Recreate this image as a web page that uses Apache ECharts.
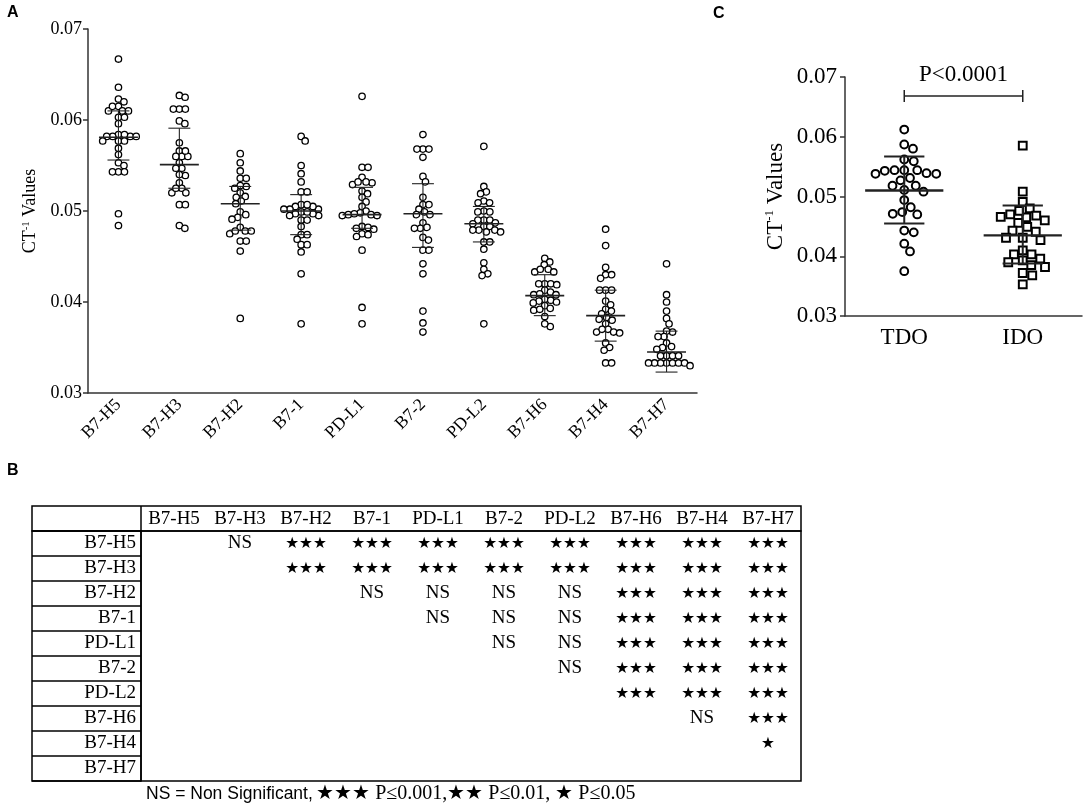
<!DOCTYPE html>
<html lang="en">
<head>
<meta charset="utf-8" />
<title>B7 family CT-1 values</title>
<script src="https://cdn.jsdelivr.net/npm/echarts@6/dist/echarts.min.js"></script>
<style>
  html, body { margin: 0; padding: 0; background: #fff; }
  #main { width: 1084px; height: 806px; }
</style>
</head>
<body>
<div id="main"></div>
<script>
  // ---- panel A : CT-1 values per B7 family member ----
  var groupsA = ["B7-H5", "B7-H3", "B7-H2", "B7-1", "PD-L1", "B7-2", "PD-L2", "B7-H6", "B7-H4", "B7-H7"];
  var h5 = [0.0667, 0.0636, 0.0623, 0.0620, 0.0615, 0.0610, 0.0610, 0.0610, 0.0615, 0.0603, 0.0603, 0.0596, 0.0584, 0.0582, 0.0582, 0.0582, 0.0582, 0.0584, 0.0577, 0.0577, 0.0577, 0.0569, 0.0562, 0.0553, 0.0550, 0.0543, 0.0543, 0.0543, 0.0497, 0.0484];
  var h3 = [0.0627, 0.0625, 0.0612, 0.0612, 0.0612, 0.0599, 0.0596, 0.0575, 0.0566, 0.0560, 0.0560, 0.0560, 0.0566, 0.0553, 0.0547, 0.0547, 0.0539, 0.0540, 0.0531, 0.0525, 0.0520, 0.0520, 0.0525, 0.0507, 0.0507, 0.0484, 0.0481];
  var h2 = [0.0563, 0.0553, 0.0544, 0.0536, 0.0536, 0.0527, 0.0528, 0.0525, 0.0520, 0.0516, 0.0515, 0.0511, 0.0508, 0.0499, 0.0496, 0.0493, 0.0491, 0.0482, 0.0478, 0.0475, 0.0478, 0.0478, 0.0467, 0.0467, 0.0456, 0.0382];
  var b71 = [0.0582, 0.0577, 0.0550, 0.0541, 0.0532, 0.0521, 0.0521, 0.0507, 0.0505, 0.0502, 0.0502, 0.0502, 0.0505, 0.0507, 0.0499, 0.0497, 0.0495, 0.0495, 0.0497, 0.0499, 0.0490, 0.0490, 0.0483, 0.0474, 0.0474, 0.0469, 0.0463, 0.0463, 0.0455, 0.0431, 0.0376];
  var pdl1 = [0.0626, 0.0548, 0.0548, 0.0537, 0.0531, 0.0529, 0.0532, 0.0532, 0.0522, 0.0519, 0.0515, 0.0510, 0.0505, 0.0500, 0.0498, 0.0496, 0.0496, 0.0495, 0.0495, 0.0497, 0.0483, 0.0482, 0.0481, 0.0475, 0.0472, 0.0474, 0.0480, 0.0457, 0.0394, 0.0376];
  var b72 = [0.0584, 0.0568, 0.0568, 0.0568, 0.0559, 0.0538, 0.0532, 0.0515, 0.0507, 0.0507, 0.0502, 0.0499, 0.0496, 0.0496, 0.0487, 0.0482, 0.0481, 0.0481, 0.0471, 0.0468, 0.0457, 0.0457, 0.0442, 0.0431, 0.0390, 0.0377, 0.0367];
  var pdl2 = [0.0571, 0.0527, 0.0521, 0.0519, 0.0511, 0.0509, 0.0509, 0.0500, 0.0499, 0.0499, 0.0490, 0.0490, 0.0490, 0.0487, 0.0486, 0.0483, 0.0483, 0.0479, 0.0479, 0.0479, 0.0477, 0.0477, 0.0466, 0.0466, 0.0458, 0.0443, 0.0436, 0.0431, 0.0429, 0.0376];
  var h6 = [0.0448, 0.0444, 0.0441, 0.0436, 0.0433, 0.0433, 0.0436, 0.0420, 0.0420, 0.0419, 0.0420, 0.0413, 0.0411, 0.0408, 0.0409, 0.0408, 0.0403, 0.0401, 0.0402, 0.0400, 0.0399, 0.0396, 0.0393, 0.0391, 0.0392, 0.0384, 0.0373, 0.0376];
  var h4 = [0.0480, 0.0462, 0.0438, 0.0430, 0.0426, 0.0430, 0.0413, 0.0413, 0.0413, 0.0401, 0.0397, 0.0392, 0.0387, 0.0390, 0.0381, 0.0383, 0.0376, 0.0380, 0.0370, 0.0367, 0.0366, 0.0367, 0.0370, 0.0355, 0.0350, 0.0347, 0.0333, 0.0333];
  var h7 = [0.0442, 0.0408, 0.0400, 0.0390, 0.0382, 0.0376, 0.0367, 0.0368, 0.0362, 0.0362, 0.0355, 0.0351, 0.0350, 0.0348, 0.0341, 0.0341, 0.0341, 0.0341, 0.0333, 0.0333, 0.0333, 0.0333, 0.0333, 0.0333, 0.0333, 0.0330];
  var valuesA = [h5, h3, h2, b71, pdl1, b72, pdl2, h6, h4, h7];
  // centre line and error bar ends as drawn in the figure
  var centreA = [0.0581, 0.0551, 0.0508, 0.0500, 0.0496, 0.0497, 0.0486, 0.0407, 0.0385, 0.0345];
  var lowA = [0.0556, 0.0525, 0.0479, 0.0474, 0.0481, 0.0460, 0.0466, 0.0385, 0.0357, 0.0323];
  var highA = [0.0610, 0.0591, 0.0527, 0.0518, 0.0526, 0.0530, 0.0505, 0.0430, 0.0413, 0.0368];

  // ---- panel C : TDO vs IDO ----
  var groupsC = ["TDO", "IDO"];
  var tdo = [0.0612, 0.0580, 0.0587, 0.0559, 0.0562, 0.0544, 0.0543, 0.0538, 0.0538, 0.0539, 0.0544, 0.0544, 0.0527, 0.0531, 0.0518, 0.0508, 0.0511, 0.0518, 0.0482, 0.0494, 0.0471, 0.0470, 0.0474, 0.0440, 0.0443, 0.0421, 0.0408, 0.0375];
  var ido = [0.0585, 0.0508, 0.0491, 0.0480, 0.0470, 0.0466, 0.0465, 0.0468, 0.0476, 0.0456, 0.0460, 0.0449, 0.0441, 0.0443, 0.0431, 0.0427, 0.0431, 0.0410, 0.0403, 0.0403, 0.0393, 0.0390, 0.0396, 0.0385, 0.0382, 0.0372, 0.0368, 0.0353];
  var valuesC = [tdo, ido];
  var centreC = [0.0510, 0.0435];
  var lowC = [0.0455, 0.0388];
  var highC = [0.0567, 0.0485];
  var pText = "P<0.0001";
  var pLevel = 0.0668;

  // y axis range shared by A and C
  var yMin = 0.03, yMax = 0.07, yStep = 0.01;

  // ---- panel B : pairwise significance table ----
  var S3 = "★★★", S1 = "★";
  var tableMarks = [
    ["", "NS", S3, S3, S3, S3, S3, S3, S3, S3],
    ["", "", S3, S3, S3, S3, S3, S3, S3, S3],
    ["", "", "", "NS", "NS", "NS", "NS", S3, S3, S3],
    ["", "", "", "", "NS", "NS", "NS", S3, S3, S3],
    ["", "", "", "", "", "NS", "NS", S3, S3, S3],
    ["", "", "", "", "", "", "NS", S3, S3, S3],
    ["", "", "", "", "", "", "", S3, S3, S3],
    ["", "", "", "", "", "", "", "", "NS", S3],
    ["", "", "", "", "", "", "", "", "", S1],
    ["", "", "", "", "", "", "", "", "", ""]
  ];
  var footNote = "NS = Non Significant,";
  var footKey = "★★★ P≤0.001,★★ P≤0.01, ★ P≤0.05";

  var SERIF = "Liberation Serif";
  var INK = "#222";

  // simple beeswarm: push each point sideways until it no longer overlaps
  function swarm(ys, d) {
    var order = ys.map(function (y, i) { return i; })
      .sort(function (a, b) { return ys[a] - ys[b]; });
    var placed = [];
    var dx = new Array(ys.length);
    order.forEach(function (i) {
      var y = ys[i];
      for (var k = 0; k < 600; k++) {
        var off = (k % 2 === 1 ? 1 : -1) * Math.ceil(k / 2) * 0.25;
        var hit = false;
        for (var p = 0; p < placed.length; p++) {
          var ex = off - placed[p][0], ey = y - placed[p][1];
          if (ex * ex + ey * ey < d * d) { hit = true; break; }
        }
        if (!hit) { dx[i] = off; placed.push([off, y]); break; }
      }
    });
    return dx;
  }

  var swarmCache = {};
  function pointRenderer(values, d, r, lw, shapes) {
    return function (params, api) {
      var g = api.value(0), j = api.value(2);
      var key = params.seriesIndex + "_" + g;
      if (!swarmCache[key]) {
        var ys = values[g].map(function (v) { return api.coord([g, v])[1]; });
        swarmCache[key] = swarm(ys, d);
      }
      var c = api.coord([g, api.value(1)]);
      var x = c[0] + swarmCache[key][j];
      var style = { fill: "#fff", stroke: "#000", lineWidth: lw };
      if (shapes[g] === "rect") {
        return { type: "rect", shape: { x: x - r, y: c[1] - r, width: 2 * r, height: 2 * r }, style: style };
      }
      return { type: "circle", shape: { cx: x, cy: c[1], r: r }, style: style };
    };
  }

  function barRenderer(meanFrac, capFrac, lwMean, lwBar) {
    return function (params, api) {
      var g = api.value(0);
      var band = api.size([1, 0])[0];
      var m = api.coord([g, api.value(1)]);
      var lo = api.coord([g, api.value(2)]);
      var hi = api.coord([g, api.value(3)]);
      var hm = band * meanFrac / 2, hc = band * capFrac / 2;
      var sb = { stroke: INK, lineWidth: lwBar };
      return {
        type: "group",
        children: [
          { type: "line", shape: { x1: lo[0], y1: lo[1], x2: hi[0], y2: hi[1] }, style: sb },
          { type: "line", shape: { x1: lo[0] - hc, y1: lo[1], x2: lo[0] + hc, y2: lo[1] }, style: sb },
          { type: "line", shape: { x1: hi[0] - hc, y1: hi[1], x2: hi[0] + hc, y2: hi[1] }, style: sb },
          { type: "line", shape: { x1: m[0] - hm, y1: m[1], x2: m[0] + hm, y2: m[1] }, style: { stroke: INK, lineWidth: lwMean } }
        ]
      };
    };
  }

  function pointData(values) {
    var out = [];
    values.forEach(function (arr, g) {
      arr.forEach(function (v, j) { out.push([g, v, j]); });
    });
    return out;
  }
  function barData(c, lo, hi) {
    return c.map(function (v, g) { return [g, v, lo[g], hi[g]]; });
  }

  var tableData = [];
  tableMarks.forEach(function (row, r) {
    row.forEach(function (t, c) { if (t) tableData.push([c, r]); });
  });

  function valueAxis(gridIndex, fontSize, margin, gap, nameSize, supSize) {
    return {
      type: "value", gridIndex: gridIndex, min: yMin, max: yMax, interval: yStep,
      name: "{a|CT}{s|-1}{a| Values}", nameLocation: "middle", nameGap: gap, nameRotate: 90,
      nameTextStyle: {
        rich: {
          a: { fontFamily: SERIF, fontSize: nameSize, color: "#000", lineHeight: nameSize + 2 },
          s: { fontFamily: SERIF, fontSize: supSize, color: "#000", verticalAlign: "top", lineHeight: nameSize + 2 }
        }
      },
      axisLine: { show: true, lineStyle: { color: "#333", width: 1.5 } },
      axisTick: { show: true, length: 5, lineStyle: { color: "#333", width: 1.5 } },
      axisLabel: {
        margin: margin, fontFamily: SERIF, fontSize: fontSize, color: "#000",
        formatter: function (v) { return v.toFixed(2); }
      },
      splitLine: { show: false }
    };
  }

  var chart = echarts.init(document.getElementById("main"), null, { renderer: "canvas" });

  var option = {
    animation: false,
    backgroundColor: "#fff",
    textStyle: { fontFamily: SERIF },
    grid: [
      { left: 88, top: 29, width: 609, height: 364 },
      { left: 845, top: 77, width: 237, height: 239 },
      { left: 141, top: 531, width: 660, height: 250, show: true, borderColor: "#000", borderWidth: 1.5, backgroundColor: "transparent" },
      { left: 32, top: 531, width: 109, height: 250, show: true, borderColor: "#000", borderWidth: 1.5, backgroundColor: "transparent" }
    ],
    xAxis: [
      {
        type: "category", gridIndex: 0, data: groupsA,
        axisLine: { lineStyle: { color: "#333", width: 1.5 } },
        axisTick: { alignWithLabel: true, length: 5, lineStyle: { color: "#333", width: 1.5 } },
        axisLabel: { rotate: 45, margin: 9, fontFamily: SERIF, fontSize: 17.5, color: "#000", interval: 0 }
      },
      {
        type: "category", gridIndex: 1, data: groupsC,
        axisLine: { lineStyle: { color: "#333", width: 1.5 } },
        axisTick: { alignWithLabel: true, length: 6, lineStyle: { color: "#333", width: 1.5 } },
        axisLabel: { margin: 10, fontFamily: SERIF, fontSize: 23, color: "#000" }
      },
      {
        type: "category", gridIndex: 2, data: groupsA, position: "top",
        axisLine: { show: false }, axisTick: { show: false },
        axisLabel: { margin: 2, fontFamily: SERIF, fontSize: 19, color: "#000", interval: 0 }
      },
      { type: "value", gridIndex: 3, show: false, min: 0, max: 1 }
    ],
    yAxis: [
      valueAxis(0, 18, 6, 38, 18, 11),
      valueAxis(1, 23, 8, 57, 23, 13),
      { type: "category", gridIndex: 2, data: groupsA, inverse: true, show: false },
      {
        type: "category", gridIndex: 3, data: groupsA, inverse: true, position: "right",
        axisLine: { show: false }, axisTick: { show: false },
        splitLine: { show: true, lineStyle: { color: "#000", width: 1.5 } },
        axisLabel: { inside: true, margin: 5, fontFamily: SERIF, fontSize: 19, color: "#000", interval: 0 }
      }
    ],
    series: [
      {
        type: "custom", xAxisIndex: 0, yAxisIndex: 0, z: 2,
        data: pointData(valuesA),
        renderItem: pointRenderer(valuesA, 6.0, 3.2, 1.3, [])
      },
      {
        type: "custom", xAxisIndex: 0, yAxisIndex: 0, z: 3,
        data: barData(centreA, lowA, highA),
        renderItem: barRenderer(0.64, 0.36, 1.6, 1.1)
      },
      {
        type: "custom", xAxisIndex: 1, yAxisIndex: 1, z: 2,
        data: pointData(valuesC),
        renderItem: pointRenderer(valuesC, 9.6, 3.9, 2, ["circle", "rect"])
      },
      {
        type: "custom", xAxisIndex: 1, yAxisIndex: 1, z: 3,
        data: barData(centreC, lowC, highC),
        renderItem: barRenderer(0.66, 0.34, 2.4, 2)
      },
      {
        // significance bracket over panel C
        type: "custom", xAxisIndex: 1, yAxisIndex: 1, z: 3,
        data: [[0, 1, pLevel]],
        renderItem: function (params, api) {
          var a = api.coord([api.value(0), api.value(2)]);
          var b = api.coord([api.value(1), api.value(2)]);
          var st = { stroke: INK, lineWidth: 1.5 };
          return {
            type: "group",
            children: [
              { type: "line", shape: { x1: a[0], y1: a[1], x2: b[0], y2: b[1] }, style: st },
              { type: "line", shape: { x1: a[0], y1: a[1] - 6, x2: a[0], y2: a[1] + 6 }, style: st },
              { type: "line", shape: { x1: b[0], y1: b[1] - 6, x2: b[0], y2: b[1] + 6 }, style: st },
              {
                type: "text", x: (a[0] + b[0]) / 2, y: a[1] - 21,
                style: { text: pText, fontFamily: SERIF, fontSize: 23, fill: "#000", align: "center", verticalAlign: "middle" }
              }
            ]
          };
        }
      },
      {
        // table cells
        type: "custom", xAxisIndex: 2, yAxisIndex: 2, z: 3,
        data: tableData,
        renderItem: function (params, api) {
          var c = api.value(0), r = api.value(1);
          var p = api.coord([c, r]);
          var t = tableMarks[r][c];
          var star = t.indexOf("★") >= 0;
          return {
            type: "text", x: p[0], y: p[1],
            style: {
              text: t, fill: "#000", align: "center", verticalAlign: "middle",
              fontFamily: star ? "DejaVu Sans" : SERIF, fontSize: star ? 15.5 : 19
            }
          };
        }
      }
    ],
    graphic: [
      { type: "text", left: 7, top: 5, style: { text: "A", font: "bold 16px 'Liberation Sans'", fill: "#000" } },
      { type: "text", left: 7, top: 463, style: { text: "B", font: "bold 16px 'Liberation Sans'", fill: "#000" } },
      { type: "text", left: 713, top: 6, style: { text: "C", font: "bold 16px 'Liberation Sans'", fill: "#000" } },
      {
        type: "rect", shape: { x: 32, y: 506, width: 769, height: 25 },
        style: { fill: "none", stroke: "#000", lineWidth: 1.5 }
      },
      {
        type: "line", shape: { x1: 141, y1: 506, x2: 141, y2: 531 },
        style: { stroke: "#000", lineWidth: 1.5 }
      },
      {
        type: "text", left: 146, top: 784,
        style: {
          text: "{s|" + footNote + "} {t|" + footKey + "}",
          rich: {
            s: { fontFamily: "Liberation Sans", fontSize: 17.5, fill: "#000" },
            t: { fontFamily: SERIF, fontSize: 20, fill: "#000" }
          }
        }
      }
    ]
  };

  chart.setOption(option);
</script>
</body>
</html>
